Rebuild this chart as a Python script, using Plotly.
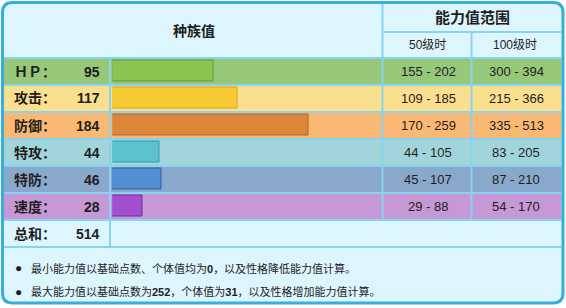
import plotly.graph_objects as go

W, H = 566, 308

# ---- data ----
stat_labels = ["ＨＰ：", "攻击：", "防御：", "特攻：", "特防：", "速度："]
base_stats = [95, 117, 184, 44, 46, 28]
lv50_ranges = ["155 - 202", "109 - 185", "170 - 259", "44 - 105", "45 - 107", "29 - 88"]
lv100_ranges = ["300 - 394", "215 - 366", "335 - 513", "83 - 205", "87 - 210", "54 - 170"]
total_label = "总和："
total_value = 514
header_main = "种族值"
header_range = "能力值范围"
header_lv50 = "50级时"
header_lv100 = "100级时"
notes = [
    "最小能力值以基础点数、个体值均为<b>0</b>，以及性格降低能力值计算。",
    "最大能力值以基础点数为<b>252</b>，个体值为<b>31</b>，以及性格增加能力值计算。",
]

# ---- styles ----
row_colors = ["#97c879", "#fadf8e", "#f9b974", "#a1d5db", "#8aa8cc", "#c698d6"]
bar_colors = ["#8cc451", "#f8c933", "#de873a", "#5bc3d0", "#548ed2", "#a64ed2"]
bar_lines = ["#5a9a35", "#d4a420", "#b0652a", "#3a9aa8", "#2c5ea0", "#6a3594"]
light = "#ddf5fd"
gap = "#86d4f0"
border = "#35afdc"
txt = "#1e1e1e"
FONT = "Liberation Sans, Arial, Noto Sans CJK SC, sans-serif"


def px(x):
    return x / W


def py(y):
    return 1 - y / H


shapes = []


def rect(x0, y0, x1, y1, fill):
    shapes.append(dict(type="rect", xref="paper", yref="paper",
                       x0=px(x0), x1=px(x1), y0=py(y1), y1=py(y0),
                       fillcolor=fill, line=dict(width=0), layer="below"))


def line(x0, y0, x1, y1, color=gap, w=2):
    shapes.append(dict(type="line", xref="paper", yref="paper",
                       x0=px(x0), x1=px(x1), y0=py(y0), y1=py(y1),
                       line=dict(color=color, width=w), layer="below"))


def rounded(x0, y0, x1, y1, r):
    X = lambda v: px(v)
    Y = lambda v: py(v)
    return (f"M {X(x0+r)},{Y(y0)} L {X(x1-r)},{Y(y0)} "
            f"Q {X(x1)},{Y(y0)} {X(x1)},{Y(y0+r)} "
            f"L {X(x1)},{Y(y1-r)} Q {X(x1)},{Y(y1)} {X(x1-r)},{Y(y1)} "
            f"L {X(x0+r)},{Y(y1)} Q {X(x0)},{Y(y1)} {X(x0)},{Y(y1-r)} "
            f"L {X(x0)},{Y(y0+r)} Q {X(x0)},{Y(y0)} {X(x0+r)},{Y(y0)} Z")


# outer box
shapes.append(dict(type="path", xref="paper", yref="paper",
                   path=rounded(2.5, 2.5, 563, 303, 10),
                   fillcolor=light, line=dict(width=0), layer="below"))

ROW0, PITCH, RH = 59, 27, 25
LEFT, RIGHT = 4, 561.5
for i, c in enumerate(row_colors):
    t = ROW0 + PITCH * i
    rect(LEFT, t, RIGHT, t + RH, c)

# horizontal gap lines
for i in range(8):
    y = ROW0 - 1 + PITCH * i
    line(LEFT, y, RIGHT, y)
line(383, 32, RIGHT, 32)
# vertical gap lines
line(110, 58, 110, 247)
line(382.5, 4, 382.5, 219.5)
line(471.5, 32, 471.5, 219.5)

# outer border on top
shapes.append(dict(type="path", xref="paper", yref="paper",
                   path=rounded(2.5, 2.5, 563, 303, 10),
                   fillcolor="rgba(0,0,0,0)", line=dict(color=border, width=3),
                   layer="above"))

annotations = []


def text(x, y, s, size=13, anchor="center", bold=False, color=txt):
    annotations.append(dict(xref="paper", yref="paper", x=px(x), y=py(y),
                            text=f"<b>{s}</b>" if bold else s, showarrow=False,
                            xanchor=anchor, yanchor="middle",
                            font=dict(family=FONT, size=size, color=color)))


text(193.5, 31, header_main, 14, bold=True)
text(472.5, 18, header_range, 15, bold=True)
text(427, 45.5, header_lv50, 12)
text(515, 45.5, header_lv100, 12)

for i in range(len(stat_labels)):
    cy = ROW0 + PITCH * i + RH / 2
    text(12, cy, stat_labels[i], 14, anchor="left", bold=True)
    text(102, cy, str(base_stats[i]), 14, anchor="right", bold=True)
    text(428, cy, lv50_ranges[i], 13)
    text(516, cy, lv100_ranges[i], 13)

cy = ROW0 + PITCH * 6 + RH / 2
text(12, cy, total_label, 14, anchor="left", bold=True)
text(102, cy, str(total_value), 14, anchor="right", bold=True)

for j, n in enumerate(notes):
    y = 268 + 23.5 * j
    text(18, y, "●", 12)
    text(29, y, n, 11, anchor="left")

fig = go.Figure()
fig.add_trace(go.Bar(
    x=base_stats, y=list(range(len(base_stats))), orientation="h",
    marker=dict(color=bar_colors, line=dict(color=bar_lines, width=1)),
    width=0.8, hoverinfo="skip", showlegend=False,
))

fig.update_layout(
    width=W, height=H, margin=dict(l=0, r=0, t=0, b=0),
    paper_bgcolor="white", plot_bgcolor="rgba(0,0,0,0)",
    xaxis=dict(domain=[px(112.5), px(382)], range=[0, 253], visible=False, fixedrange=True),
    yaxis=dict(domain=[py(219.5), py(57.5)], range=[5.5, -0.5], visible=False, fixedrange=True),
    shapes=shapes, annotations=annotations, bargap=0,
)

fig.write_html("out.html")
